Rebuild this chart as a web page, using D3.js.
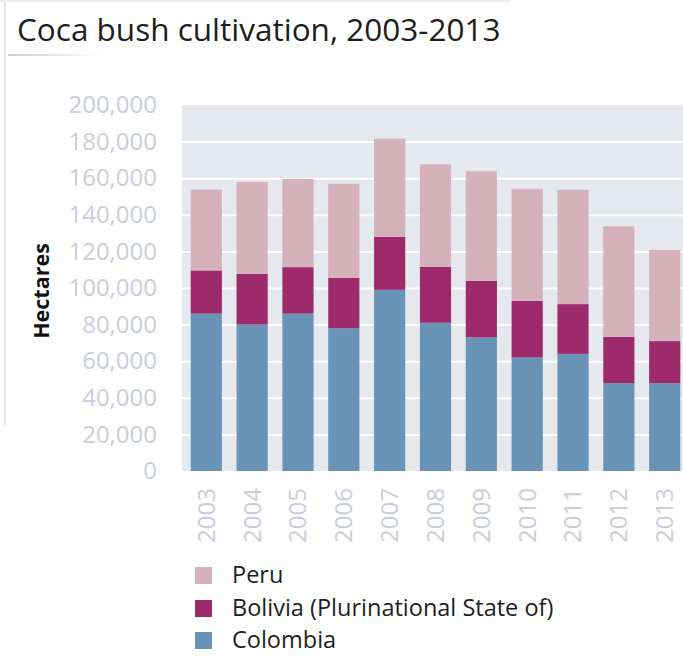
<!DOCTYPE html>
<html>
<head>
<meta charset="utf-8">
<script src="https://cdn.jsdelivr.net/npm/d3@7/dist/d3.min.js"></script>
<style>
  html, body { margin: 0; padding: 0; background: #ffffff; }
  svg { display: block; font-family: "Open Sans", "Noto Sans", sans-serif; }
</style>
</head>
<body>
<svg id="chart" width="683" height="656"></svg>
<script>
// Coca bush cultivation (hectares) by country, 2003-2013
const years = ["2003","2004","2005","2006","2007","2008","2009","2010","2011","2012","2013"];
const colombia = [86000, 80000, 86000, 78000, 99000, 81000, 73000, 62000, 64000, 48000, 48000];
const bolivia  = [23600, 27700, 25400, 27500, 28900, 30500, 30900, 31000, 27200, 25300, 23000];
const peru     = [44200, 50300, 48200, 51400, 53700, 56100, 59900, 61200, 62500, 60400, 49800];
const seriesNames = ["Colombia", "Bolivia (Plurinational State of)", "Peru"];
const seriesColors = ["#6a93b8", "#9d2b6b", "#d4b1bb"];
const yTicks = [0, 20000, 40000, 60000, 80000, 100000, 120000, 140000, 160000, 180000, 200000];

const svg = d3.select("#chart");

// page frame
svg.append("line").attr("x1", 5).attr("x2", 5).attr("y1", 0).attr("y2", 425)
  .attr("stroke", "#e1e5ea").attr("stroke-width", 2);
svg.append("line").attr("x1", 0).attr("x2", 510).attr("y1", 1).attr("y2", 1)
  .attr("stroke", "#eceff2").attr("stroke-width", 2);
const grad = svg.append("defs").append("linearGradient").attr("id", "fade");
grad.append("stop").attr("offset", "0%").attr("stop-color", "#c9ced4");
grad.append("stop").attr("offset", "100%").attr("stop-color", "#ffffff");
svg.append("rect").attr("x", 8).attr("y", 54).attr("width", 95).attr("height", 2)
  .attr("fill", "url(#fade)");

// title
svg.append("text").attr("x", 17).attr("y", 41)
  .attr("font-size", 31.5).attr("fill", "#1e1e1e")
  .text("Coca bush cultivation, 2003-2013");

// scales
const x = d3.scaleBand().domain(years).range([182, 689])
  .paddingInner(0.32).paddingOuter(0.19);
const y = d3.scaleLinear().domain([0, 200000]).range([471, 105]);

// plot background
svg.append("rect").attr("x", 182).attr("y", y(200000))
  .attr("width", 689 - 182).attr("height", y(0) - y(200000))
  .attr("fill", "#e5e8ed");

// horizontal grid
const yGrid = d3.axisLeft(y).tickValues(yTicks.slice(1, -1))
  .tickSize(-(689 - 182)).tickFormat("");
svg.append("g").attr("transform", "translate(182,0)").call(yGrid)
  .call(g => g.select(".domain").remove())
  .call(g => g.selectAll("line").attr("stroke", "#ffffff").attr("stroke-width", 2));

// stacked bars
const rows = years.map((yr, i) => ({ year: yr, Colombia: colombia[i],
  "Bolivia (Plurinational State of)": bolivia[i], Peru: peru[i] }));
const stacked = d3.stack().keys(seriesNames)(rows);
svg.append("g").selectAll("g").data(stacked).join("g")
  .attr("fill", (d, i) => seriesColors[i])
  .selectAll("rect").data(d => d).join("rect")
  .attr("x", d => x(d.data.year))
  .attr("width", x.bandwidth())
  .attr("y", d => y(d[1]))
  .attr("height", d => y(d[0]) - y(d[1]));

// y axis labels
const yAxis = d3.axisLeft(y).tickValues(yTicks).tickSize(0).tickPadding(0)
  .tickFormat(d3.format(","));
svg.append("g").attr("transform", "translate(157,0)").call(yAxis)
  .call(g => g.select(".domain").remove())
  .call(g => g.selectAll("text").attr("font-size", 24).attr("fill", "#c9ced9")
    .attr("font-family", "Open Sans, Noto Sans, sans-serif"));

// x axis labels (rotated)
const xAxis = d3.axisBottom(x).tickSize(0).tickPadding(0);
svg.append("g").attr("transform", "translate(0,488)").call(xAxis)
  .call(g => g.select(".domain").remove())
  .call(g => g.selectAll("text")
    .attr("font-size", 24).attr("fill", "#c9ced9")
    .attr("font-family", "Open Sans, Noto Sans, sans-serif")
    .attr("text-anchor", "end").attr("dy", "0.35em").attr("y", 0).attr("x", 0)
    .attr("transform", "rotate(-90)"));

// y axis title
svg.append("text").attr("transform", "translate(49,291) rotate(-90)")
  .attr("text-anchor", "middle").attr("font-size", 21.5).attr("font-weight", "bold")
  .attr("fill", "#111").text("Hectares");

// legend
const legendItems = [
  { name: "Peru", color: seriesColors[2] },
  { name: "Bolivia (Plurinational State of)", color: seriesColors[1] },
  { name: "Colombia", color: seriesColors[0] }
];
const legendBaselines = [583, 616, 648];
const lg = svg.append("g").selectAll("g").data(legendItems).join("g")
  .attr("transform", (d, i) => `translate(195,${legendBaselines[i]})`);
lg.append("rect").attr("y", -16).attr("width", 17).attr("height", 17).attr("fill", d => d.color);
lg.append("text").attr("x", 37).attr("y", 0).attr("font-size", 23.5).attr("font-weight", 500)
  .attr("fill", "#1e1e1e").text(d => d.name);
</script>
</body>
</html>
